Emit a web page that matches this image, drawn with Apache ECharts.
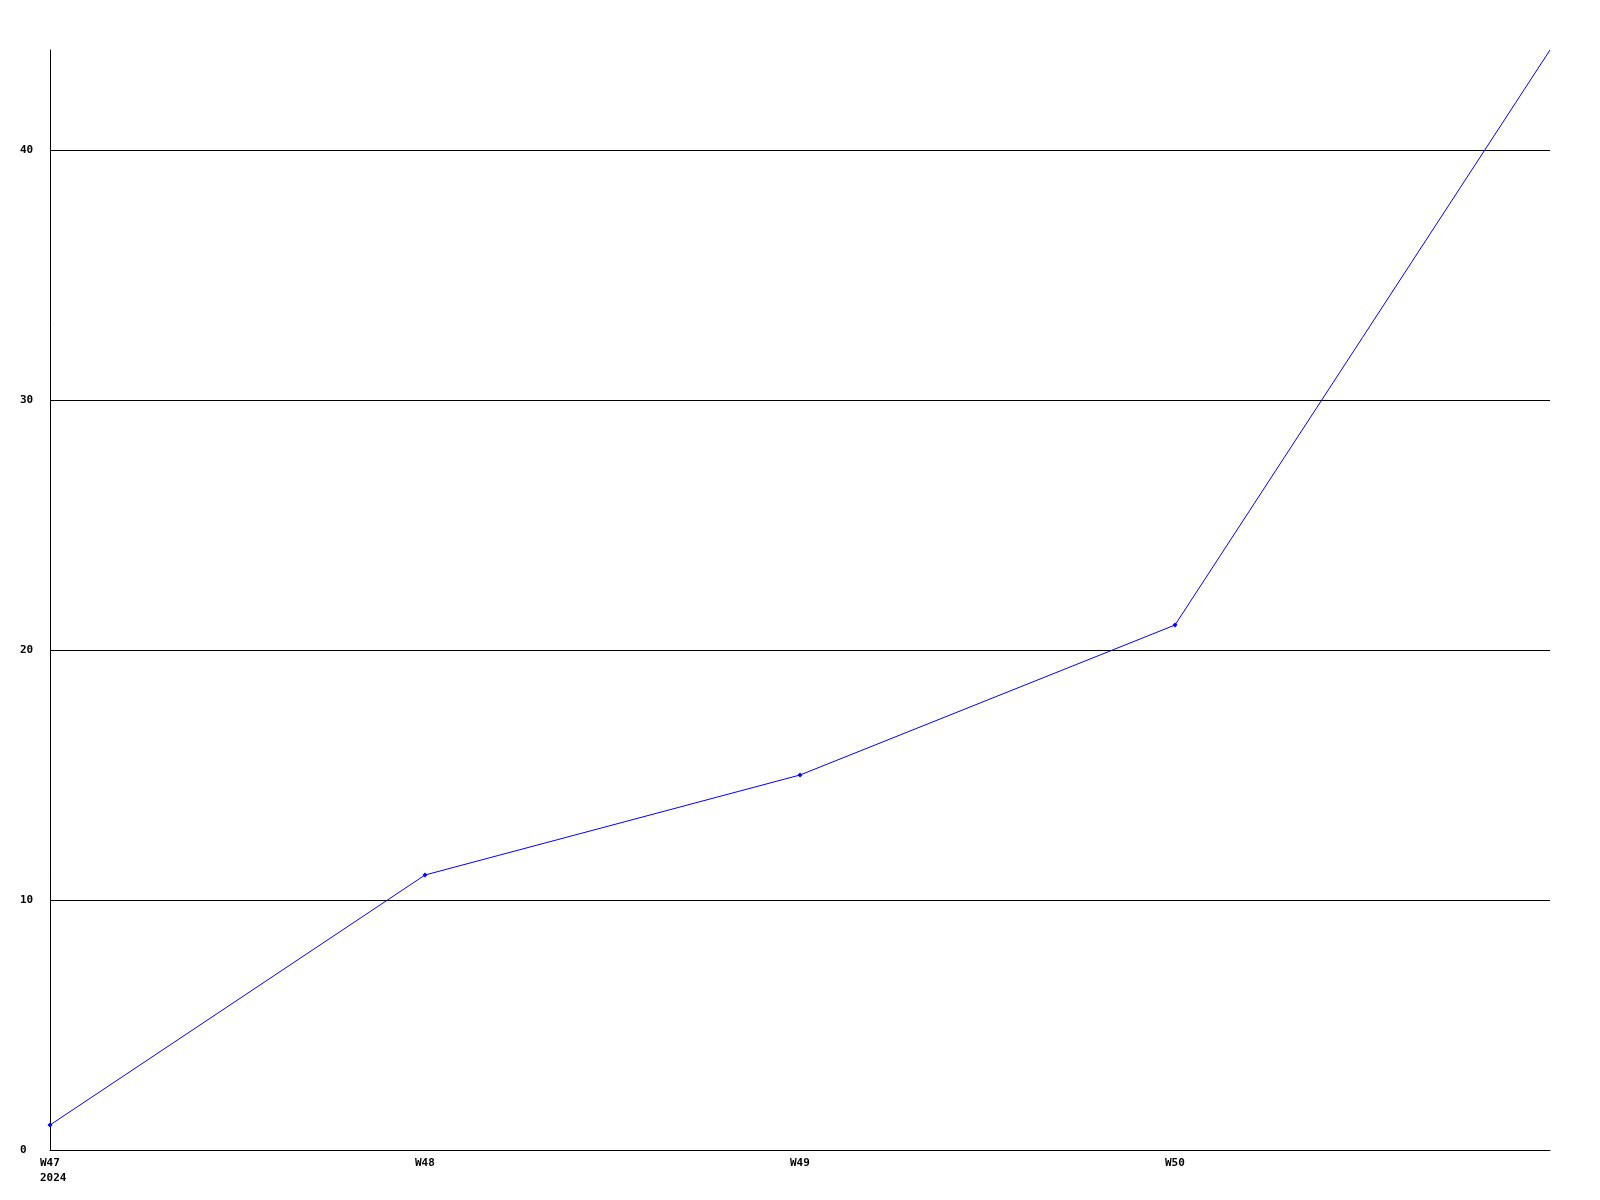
<!DOCTYPE html>
<html>
<head>
<meta charset="utf-8">
<script src="https://cdn.jsdelivr.net/npm/echarts@6/dist/echarts.min.js"></script>
<style>
html,body{margin:0;padding:0;background:#fff;}
#c{width:1600px;height:1200px;}
</style>
</head>
<body>
<div id="c"></div>
<script>
const weeks = ['W47\n2024', 'W48', 'W49', 'W50', 'W51'];
const values = [1, 11, 15, 21, 44];
const yTicks = [0, 10, 20, 30, 40];

const chart = echarts.init(document.getElementById('c'), null, {renderer: 'canvas'});
const font = {fontFamily: 'DejaVu Sans Mono', fontWeight: 'bold', fontSize: 11, color: '#000'};
const seriesData = values.map(function (v, i) {
  return i === values.length - 1 ? {value: v, symbol: 'none'} : v;
});
chart.setOption({
  animation: false,
  backgroundColor: '#fff',
  grid: {left: 50, right: 50, top: 50, bottom: 50, containLabel: false},
  xAxis: {
    type: 'category',
    data: weeks,
    boundaryGap: false,
    axisLine: {lineStyle: {color: '#000', width: 1}},
    axisTick: {show: false},
    splitLine: {show: false},
    axisLabel: Object.assign({}, font, {
      margin: 6,
      lineHeight: 15,
      align: 'left',
      padding: [0, 0, 0, -10],
      verticalAlign: 'top',
      interval: function (i) { return i < weeks.length - 1; }
    })
  },
  yAxis: {
    type: 'value',
    min: 0,
    max: 44,
    interval: 10,
    axisLine: {show: true, lineStyle: {color: '#000', width: 1}},
    axisTick: {show: false},
    splitLine: {show: true, showMaxLine: false, lineStyle: {color: '#000', width: 1}},
    axisLabel: Object.assign({}, font, {
      margin: 30,
      align: 'left',
      showMaxLabel: false,
      formatter: function (v) { return yTicks.indexOf(v) >= 0 ? String(v) : ''; }
    })
  },
  series: [{
    type: 'line',
    data: seriesData,
    symbol: 'diamond',
    symbolSize: 5,
    showSymbol: true,
    clip: false,
    lineStyle: {color: '#0000ff', width: 1},
    itemStyle: {color: '#0000ff'}
  }]
});
</script>
</body>
</html>
